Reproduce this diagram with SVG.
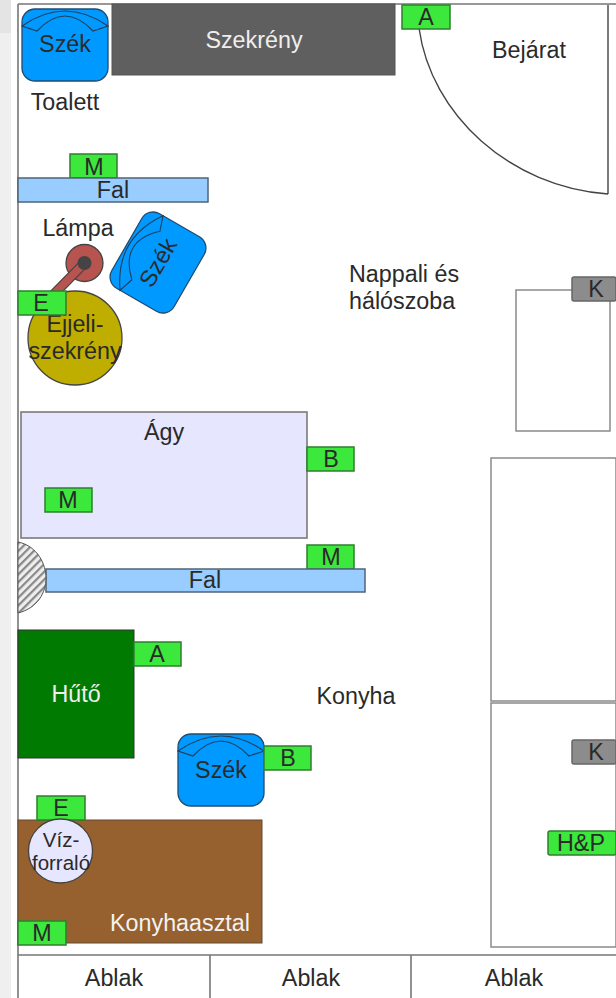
<svg xmlns="http://www.w3.org/2000/svg" width="616" height="998" viewBox="0 0 616 998">
<style>
text{font-family:"Liberation Sans",Arial,sans-serif;font-size:23.300px;fill:#2a2a2a;text-anchor:middle}
.g{fill:#3de83d;stroke:#2f7f2f;stroke-width:1.5}
.k{fill:#8c8c8c;stroke:#666;stroke-width:1.5}
.f{fill:#99ccff;stroke:#4f6478;stroke-width:1.5}
.b{fill:#fff;stroke:#8a8a8a;stroke-width:1.5}
.c{fill:#0099ff;stroke:#1f4b70;stroke-width:1.3}
.n{fill:none;stroke:#1f3f5c;stroke-width:1.1}
</style>
<defs>
<pattern id="h" width="5.500" height="5.500" patternUnits="userSpaceOnUse" patternTransform="rotate(-45)"><rect width="5.500" height="5.500" fill="#eee"/><rect width="5.500" height="2.200" fill="#888"/></pattern>
<g id="chair"><rect x="-43" y="-36" width="86" height="72" rx="13" class="c"/><path class="n" d="M-43-19Q0-49 43-19L28-14Q0-44-28-14Z"/></g>
</defs>
<rect width="616" height="998" fill="#fff"/>
<rect width="11" height="998" fill="#efefef"/>
<rect width="11" height="33" fill="#e4e4e4"/>
<g id="walls" fill="none" stroke="#777" stroke-width="1.6"><path d="M18 4H616M18 4V998M18 955H616"/><path d="M210 955V998M411 955V998"/></g>
<g id="door"><path d="M608 194V5M608 194C510 187 431 115 419 28" fill="none" stroke="#444" stroke-width="1.4"/><text x="529" y="58">Bejárat</text></g>
<g id="szek1"><use href="#chair" transform="translate(65 45)"/><text x="65" y="52">Szék</text></g>
<g id="szekreny"><rect x="112" y="4" width="283" height="71" fill="#5f5f5f" stroke="#555"/><text x="254" y="48" style="fill:#eee">Szekrény</text></g>
<g id="toalett"><text x="65" y="110">Toalett</text></g>
<g id="A1"><rect x="402" y="5" width="48" height="24" class="g"/><text x="426" y="25">A</text></g>
<g id="M1"><rect x="70" y="154" width="47" height="24" class="g"/><text x="94" y="175">M</text></g>
<g id="fal1"><rect x="18" y="178" width="190" height="24" class="f"/><text x="113" y="198">Fal</text></g>
<g id="lampa"><text x="78" y="236">Lámpa</text><circle cx="84.500" cy="263" r="18.500" fill="#b85450" stroke="#444" stroke-width="1.3"/><path d="M84.500 263L52 296" stroke="#444" stroke-width="10" fill="none"/><path d="M84.500 263L52 296" stroke="#b85450" stroke-width="7.500" fill="none"/><circle cx="84.500" cy="263" r="7" fill="#444"/></g>
<g id="ejjeli"><circle cx="75" cy="338" r="47" fill="#bfae00" stroke="#444" stroke-width="1.3"/><text x="75" y="332">Ejjeli-</text><text x="75" y="359">szekrény</text></g>
<g id="E1"><rect x="18" y="291" width="48" height="24" class="g"/><text x="41" y="311">E</text></g>
<g id="szek2"><use href="#chair" transform="translate(158 262.500) rotate(-60)"/><text transform="translate(158 262.500) rotate(-60)" x="0" y="8">Szék</text></g>
<g id="nappali"><text x="349" y="282" style="text-anchor:start">Nappali és</text><text x="349" y="309" style="text-anchor:start">hálószoba</text></g>
<g id="butor1"><rect x="516" y="290" width="94" height="141" class="b"/></g>
<g id="K1"><rect x="572" y="277" width="44" height="24" rx="2" class="k"/><text x="596" y="297">K</text></g>
<g id="agy"><rect x="21" y="412" width="286" height="126" fill="#e6e6ff" stroke="#7a7a7a" stroke-width="1.6"/><text x="164" y="440">Ágy</text></g>
<g id="M2"><rect x="45" y="488" width="47" height="24" class="g"/><text x="68" y="508">M</text></g>
<g id="B1"><rect x="307" y="447" width="47" height="24" class="g"/><text x="331" y="467">B</text></g>
<g id="M3"><rect x="307" y="545" width="47" height="24" class="g"/><text x="331" y="565">M</text></g>
<g id="fal2"><rect x="46" y="569" width="319" height="23" class="f"/><text x="205" y="588">Fal</text></g>
<g id="oszlop"><path d="M18 542C38 546 46 565 46 578C46 592 38 608 18 613Z" fill="url(#h)" stroke="#555" stroke-width="1"/></g>
<g id="huto"><rect x="18" y="630" width="116" height="128" fill="#007a00" stroke="#333" stroke-width="1"/><text x="76" y="702" style="fill:#eee">Hűtő</text></g>
<g id="A2"><rect x="134" y="642" width="47" height="24" class="g"/><text x="157" y="662">A</text></g>
<g id="konyha"><text x="356" y="704">Konyha</text></g>
<g id="butor2"><rect x="491" y="458" width="125" height="243" class="b"/></g>
<g id="butor3"><rect x="491" y="703" width="125" height="244" class="b"/></g>
<g id="K2"><rect x="572" y="740" width="44" height="24" rx="2" class="k"/><text x="596" y="760">K</text></g>
<g id="HP"><rect x="548" y="831" width="68" height="24" rx="2" class="g"/><text x="581" y="851">H&amp;P</text></g>
<g id="szek3"><use href="#chair" transform="translate(221 770)"/><text x="221" y="778">Szék</text></g>
<g id="B2"><rect x="264" y="746" width="47" height="24" class="g"/><text x="288" y="766">B</text></g>
<g id="asztal"><rect x="18" y="820" width="244" height="123" fill="#96602f" stroke="#5e4a30" stroke-width="1"/><text x="180" y="931" style="fill:#f2f2f2">Konyhaasztal</text></g>
<g id="E2"><rect x="37" y="796" width="48" height="24" class="g"/><text x="61" y="816">E</text></g>
<g id="vizforralo"><circle cx="60.500" cy="851" r="32" fill="#e6e6ff" stroke="#444" stroke-width="1.3"/><text x="61" y="847" style="font-size:20.500px">Víz-</text><text x="61" y="870" style="font-size:20.500px">forraló</text></g>
<g id="M4"><rect x="18" y="921" width="48" height="24" class="g"/><text x="42" y="941">M</text></g>
<g id="ablak"><text x="114" y="986">Ablak</text><text x="311" y="986">Ablak</text><text x="514" y="986">Ablak</text></g>
</svg>
